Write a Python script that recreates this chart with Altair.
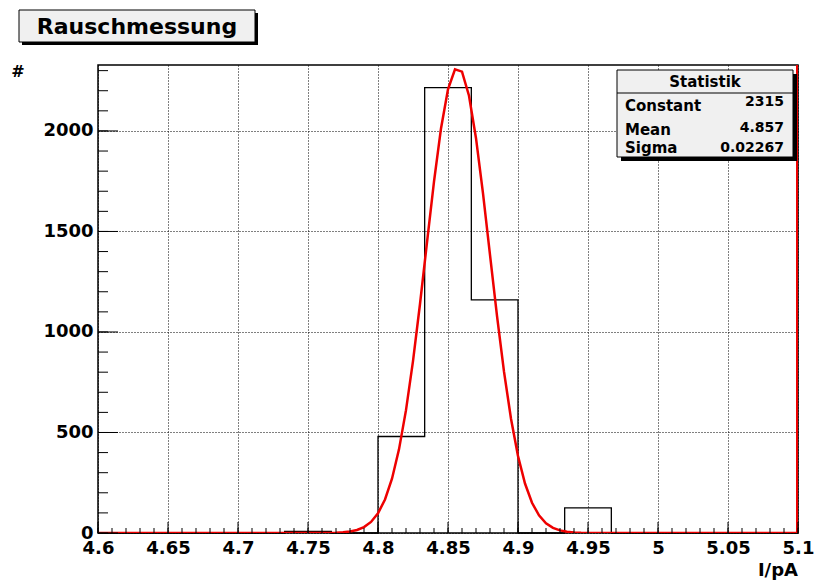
import math
import altair as alt
import pandas as pd

# ---- data ----
bin_lo = 4.6
bin_width = 1.0 / 30.0
counts = [0, 0, 0, 0, 8, 0, 480, 2215, 1160, 0, 125, 0, 0, 0, 0]

fit_constant = 2315.0
fit_mean = 4.857
fit_sigma = 0.02267
fit_npx = 100

x_major = [4.6, 4.65, 4.7, 4.75, 4.8, 4.85, 4.9, 4.95, 5.0, 5.05, 5.1]
y_major = [0, 500, 1000, 1500, 2000]
x_minor = [round(4.6 + 0.01 * i, 2) for i in range(51)]
y_minor = [100 * i for i in range(24)]

title_text = "Rauschmessung"
stats_title = "Statistik"
stats_names = ["Constant", "Mean", "Sigma"]
stats_values = ["2315", "4.857", "0.02267"]

XMIN, XMAX, YMAX = 4.6, 5.1, 2328
W, H = 700, 468
FONT = "DejaVu Sans"

# ---- tables ----
edges = [bin_lo + i * bin_width for i in range(len(counts) + 1)]
hist_df = pd.DataFrame({"x": edges, "y": counts + [counts[-1]]})

fx = [XMIN + (XMAX - XMIN) * i / fit_npx for i in range(fit_npx + 1)]
fit_df = pd.DataFrame({
    "x": fx,
    "y": [fit_constant * math.exp(-0.5 * ((v - fit_mean) / fit_sigma) ** 2) for v in fx],
})

xs = alt.Scale(domain=[XMIN, XMAX], nice=False, zero=False)
ys = alt.Scale(domain=[0, YMAX], nice=False, zero=False)

xaxis = alt.Axis(values=x_major, format=".3~f", grid=True, gridDash=[1, 2], gridColor="black",
                 gridOpacity=1, gridWidth=1, ticks=False, domain=False, labelFont=FONT,
                 labelFontWeight="bold", labelFontSize=18, labelColor="black", labelPadding=6,
                 labelFlush=False, labelOverlap=False, title=None)
yaxis = alt.Axis(values=y_major, format="d", grid=True, gridDash=[1, 2], gridColor="black",
                 gridOpacity=1, gridWidth=1, ticks=False, domain=False, labelFont=FONT,
                 labelFontWeight="bold", labelFontSize=18, labelColor="black", labelPadding=5,
                 labelFlush=False, labelOverlap=False, title=None)

hist = alt.Chart(hist_df).mark_line(interpolate="step-after", color="black", strokeWidth=1.3).encode(
    x=alt.X("x:Q", scale=xs, axis=xaxis),
    y=alt.Y("y:Q", scale=ys, axis=yaxis),
)

fit = alt.Chart(fit_df).mark_line(color="#ee0000", strokeWidth=2.5, clip=True).encode(
    x=alt.X("x:Q", scale=xs),
    y=alt.Y("y:Q", scale=ys),
)

right_red = alt.Chart(pd.DataFrame({"x": [XMAX]})).mark_rule(color="#ee0000", strokeWidth=2, xOffset=-1).encode(
    x=alt.X("x:Q", scale=xs), y=alt.value(0), y2=alt.value(H)
)

# inside ticks
xminor_df = pd.DataFrame({"x": x_minor})
xmajor_df = pd.DataFrame({"x": x_major})
yminor_df = pd.DataFrame({"y": y_minor})
ymajor_df = pd.DataFrame({"y": y_major})

t1 = alt.Chart(xminor_df).mark_rule(color="black", strokeWidth=1).encode(
    x=alt.X("x:Q", scale=xs), y=alt.value(H), y2=alt.value(H - 5))
t2 = alt.Chart(xmajor_df).mark_rule(color="black", strokeWidth=1).encode(
    x=alt.X("x:Q", scale=xs), y=alt.value(H), y2=alt.value(H - 11))
t3 = alt.Chart(yminor_df).mark_rule(color="black", strokeWidth=1).encode(
    y=alt.Y("y:Q", scale=ys), x=alt.value(0), x2=alt.value(10))
t4 = alt.Chart(ymajor_df).mark_rule(color="black", strokeWidth=1).encode(
    y=alt.Y("y:Q", scale=ys), x=alt.value(0), x2=alt.value(20))


def label(text, x, y, size, align="center", font=FONT):
    return alt.Chart(pd.DataFrame({"t": [text]})).mark_text(
        font=font, fontWeight="bold", fontSize=size, align=align, baseline="middle", color="black"
    ).encode(text="t:N", x=alt.value(x), y=alt.value(y))


one = pd.DataFrame({"a": [0]})

# title box
title_shadow = alt.Chart(one).mark_rect(fill="black").encode(
    x=alt.value(-76), x2=alt.value(160), y=alt.value(-52), y2=alt.value(-20))
title_box = alt.Chart(one).mark_rect(fill="#f0f0f0", stroke="black", strokeWidth=1).encode(
    x=alt.value(-79), x2=alt.value(157), y=alt.value(-55), y2=alt.value(-23))
title_lbl = label(title_text, 39, -38, 22)

# stats box
stats_shadow = alt.Chart(one).mark_rect(fill="black").encode(
    x=alt.value(523), x2=alt.value(699), y=alt.value(9), y2=alt.value(96))
stats_box = alt.Chart(one).mark_rect(fill="#f0f0f0", stroke="black", strokeWidth=1).encode(
    x=alt.value(519), x2=alt.value(695), y=alt.value(5), y2=alt.value(92))
stats_line = alt.Chart(one).mark_rule(color="black", strokeWidth=1).encode(
    x=alt.value(519), x2=alt.value(695), y=alt.value(28))
stats_layers = [label(stats_title, 607, 17, 15)]
row_ys = [41, 65, 83]
value_ys = [37, 63, 83]
for name, val, ry, vy in zip(stats_names, stats_values, row_ys, value_ys):
    stats_layers.append(label(name, 527, ry, 15, align="left"))
    stats_layers.append(label(val, 686, vy, 14, align="right"))

# axis titles
ytitle = label("#", -80, 7, 16)
xtitle = label("I/pA", 700, 506, 18, align="right")

chart = alt.layer(
    hist, fit, right_red, t1, t2, t3, t4,
    title_shadow, title_box, title_lbl,
    stats_shadow, stats_box, stats_line, *stats_layers,
    ytitle, xtitle,
).properties(
    width=W, height=H,
    padding={"left": 98, "top": 65, "right": 17, "bottom": 48},
    autosize=alt.AutoSizeParams(type="none"),
    background="white",
).configure_view(stroke="black", strokeWidth=1.5)

chart.save("out.html", embed_options={"renderer": "svg", "actions": False})
